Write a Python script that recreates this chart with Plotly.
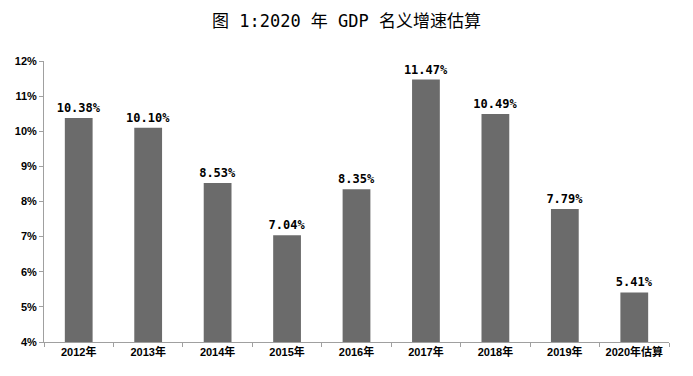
import plotly.graph_objects as go

categories = ["2012年", "2013年", "2014年", "2015年", "2016年", "2017年", "2018年", "2019年", "2020年估算"]
values = [10.38, 10.10, 8.53, 7.04, 8.35, 11.47, 10.49, 7.79, 5.41]
tick_vals = [4, 5, 6, 7, 8, 9, 10, 11, 12]
tick_text = [f"{v}%" for v in tick_vals]

fig = go.Figure(go.Bar(
    x=categories,
    y=values,
    marker=dict(color="#6b6b6b", line=dict(width=0)),
    width=0.4,
    text=[f"{v:.2f}%" for v in values],
    textposition="outside",
    constraintext="none",
    textfont=dict(family="DejaVu Sans Mono, Noto Sans CJK SC", size=12, color="#000000", weight="bold"),
    cliponaxis=False,
    hoverinfo="skip",
))

fig.update_layout(
    width=693, height=376,
    margin=dict(l=44, r=24, t=61, b=34),
    paper_bgcolor="white", plot_bgcolor="white",
    title=dict(text="图 1:2020 年 GDP 名义增速估算", x=0.5, xanchor="center", y=0.945, yanchor="middle",
               font=dict(family="DejaVu Sans Mono, Noto Sans CJK SC", size=17, color="#000000")),
    showlegend=False,
    bargap=0.6,
)
fig.update_yaxes(
    range=[4, 12], tickvals=tick_vals, ticktext=tick_text,
    showgrid=False, zeroline=False,
    showline=True, linecolor="#a0a0a0", linewidth=1,
    ticks="outside", ticklen=4, tickcolor="#a0a0a0",
    tickfont=dict(family="Liberation Sans", size=11, color="#000000", weight="bold"),
)
fig.update_xaxes(
    showgrid=False, showline=True, linecolor="#a0a0a0", linewidth=1,
    ticks="outside", ticklen=4, tickcolor="#a0a0a0", tickson="boundaries",
    tickfont=dict(family="Liberation Sans, Noto Sans CJK SC", size=11, color="#000000", weight="bold"),
)

fig.write_html("out.html", config={"displayModeBar": False},
               post_script="document.body.style.margin='0';")
